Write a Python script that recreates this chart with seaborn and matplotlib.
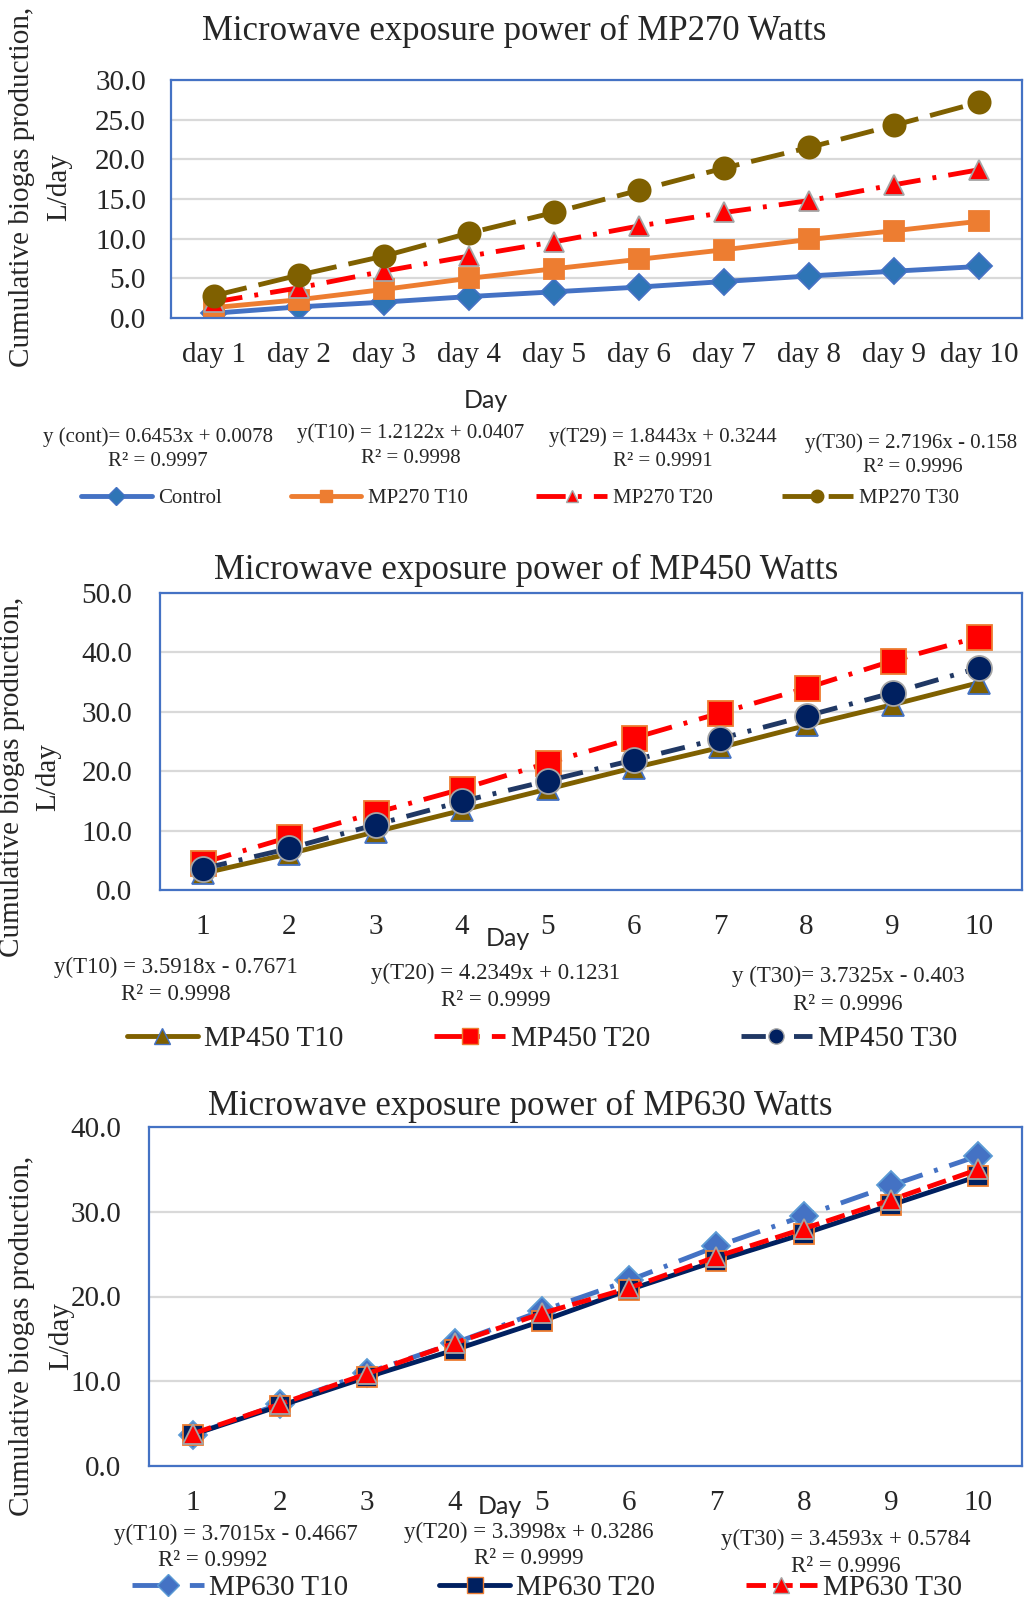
import numpy as np
import pandas as pd
import seaborn as sns
import matplotlib.pyplot as plt
from matplotlib.lines import Line2D
from matplotlib.ticker import FormatStrFormatter

sns.set_style("white")
plt.rcParams['font.family'] = ['Liberation Serif', 'DejaVu Serif']

# ---- data ----
days = list(range(1, 11))
day_labels_270 = ['day %d' % d for d in days]

mp270_control = [0.6, 1.4, 2.0, 2.7, 3.3, 3.9, 4.6, 5.3, 5.9, 6.5]
mp270_t10 = [1.3, 2.3, 3.6, 5.0, 6.2, 7.4, 8.6, 9.9, 11.0, 12.2]
mp270_t20 = [2.0, 3.8, 5.9, 7.8, 9.6, 11.6, 13.3, 14.8, 16.8, 18.7]
mp270_t30 = [2.8, 5.4, 7.8, 10.7, 13.3, 16.1, 18.9, 21.5, 24.3, 27.2]

mp450_t10 = [2.8, 6.1, 9.8, 13.4, 17.0, 20.6, 24.0, 27.7, 31.2, 34.9]
mp450_t20 = [4.6, 8.9, 13.0, 17.0, 21.4, 25.6, 29.8, 34.0, 38.6, 42.6]
mp450_t30 = [3.6, 7.0, 11.0, 14.9, 18.4, 21.9, 25.5, 29.3, 33.2, 37.4]

mp630_t10 = [3.7, 7.3, 11.0, 14.5, 18.3, 21.9, 25.9, 29.5, 33.1, 36.6]
mp630_t20 = [3.7, 7.1, 10.5, 13.7, 17.1, 20.8, 24.2, 27.4, 30.8, 34.2]
mp630_t30 = [3.8, 7.3, 10.9, 14.5, 18.0, 21.0, 24.7, 28.0, 31.4, 35.0]

W, H = 1026, 1602
fig = plt.figure(figsize=(W / 100, H / 100), dpi=100)


def box(l, t, r, b):
    return fig.add_axes([l / W, 1 - b / H, (r - l) / W, (b - t) / H])


def style_ax(ax, ymax, step, xlabels, tick_pad_y):
    ax.set_xlim(0.5, 10.5)
    ax.set_ylim(0, ymax)
    ax.set_yticks(np.arange(0, ymax + 0.1, step))
    ax.yaxis.set_major_formatter(FormatStrFormatter('%.1f'))
    ax.set_xticks(days)
    ax.set_xticklabels(xlabels)
    ax.tick_params(axis='both', length=0, labelsize=21)
    ax.tick_params(axis='y', pad=tick_pad_y)
    ax.tick_params(axis='x', pad=17)
    ax.grid(axis='y', color='#D9D9D9', lw=1.6)
    ax.grid(axis='x', visible=False)
    ax.set_axisbelow(True)
    for s in ax.spines.values():
        s.set_color('#4472C4')
        s.set_linewidth(1.6)
    ax.set_xlabel('')
    ax.set_ylabel('')


def draw(ax, y, st):
    sns.lineplot(x=days, y=y, ax=ax, color=st['c'], lw=st['lw'], linestyle=st['ls'],
                 marker=st['m'], markersize=st['ms'], markerfacecolor=st['mfc'],
                 markeredgecolor=st['mec'], markeredgewidth=1.3, legend=False)


def handle(st, ms):
    return Line2D([], [], color=st['c'], lw=st['lw'], linestyle=st['ls'], marker=st['m'],
                  markersize=ms, markerfacecolor=st['mfc'], markeredgecolor=st['mec'])


def ylab(x1, x2, yc):
    fig.text(x1 / W, 1 - yc / H, 'Cumulative biogas production,', rotation=90,
             ha='center', va='center', fontsize=21)
    fig.text(x2 / W, 1 - yc / H, 'L/day', rotation=90, ha='center', va='center', fontsize=21)


def eq(x, y, s, size):
    fig.text(x / W, 1 - y / H, s, ha='center', va='center', fontsize=size)


def day_label(x, y):
    fig.text(x / W, 1 - y / H, 'Day', ha='center', va='center', fontsize=18,
             family=['Lato', 'DejaVu Sans'])


dashdot = (0, (6, 2.5, 0.8, 2.5))
longdash = (0, (7, 2.5))

# ---- panel 1: MP270 ----
ax1 = box(171, 80, 1022, 318)
s_ctrl = dict(c='#4472C4', lw=3.5, ls='-', m='D', ms=13, mfc='#2E75B6', mec='#4472C4')
s_10 = dict(c='#ED7D31', lw=3.5, ls='-', m='s', ms=14, mfc='#ED7D31', mec='#ED7D31')
s_20 = dict(c='#FF0000', lw=3.5, ls=dashdot, m='^', ms=15, mfc='#FF0000', mec='#A5A5A5')
s_30 = dict(c='#7F6000', lw=3.5, ls=longdash, m='o', ms=16, mfc='#7F6000', mec='#7F6000')
for y, st in [(mp270_control, s_ctrl), (mp270_t10, s_10), (mp270_t20, s_20), (mp270_t30, s_30)]:
    draw(ax1, y, st)
style_ax(ax1, 30, 5, day_labels_270, 18)
fig.text(514 / W, 1 - 31 / H, 'Microwave exposure power of MP270 Watts', ha='center',
         va='center', fontsize=25)
ylab(22, 59, 187)
day_label(486, 400)
eq(158, 437, 'y (cont)= 0.6453x + 0.0078', 15)
eq(158, 462, 'R² = 0.9997', 15)
eq(411, 433, 'y(T10) = 1.2122x + 0.0407', 15)
eq(411, 459, 'R² = 0.9998', 15)
eq(663, 437, 'y(T29) = 1.8443x + 0.3244', 15)
eq(663, 462, 'R² = 0.9991', 15)
eq(911, 443, 'y(T30) = 2.7196x - 0.158', 15)
eq(913, 468, 'R² = 0.9996', 15)
fig.legend([handle(s, 9) for s in [s_ctrl, s_10, s_20, s_30]],
           ['Control', 'MP270 T10', 'MP270 T20', 'MP270 T30'],
           loc='center', bbox_to_anchor=(520 / W, 1 - 498 / H), ncol=4, frameon=False,
           fontsize=15, handlelength=3.4, handletextpad=0.3, columnspacing=3.3)

# ---- panel 2: MP450 ----
ax2 = box(160, 593, 1022, 890)
s2_10 = dict(c='#7F6000', lw=3.5, ls='-', m='^', ms=16, mfc='#7F6000', mec='#4472C4')
s2_20 = dict(c='#FF0000', lw=3.5, ls=dashdot, m='s', ms=18, mfc='#FF0000', mec='#ED7D31')
s2_30 = dict(c='#203864', lw=3.5, ls=(0, (5, 2.5, 0.8, 2.5)), m='o', ms=18,
             mfc='#002060', mec='#A5A5A5')
for y, st in [(mp450_t10, s2_10), (mp450_t20, s2_20), (mp450_t30, s2_30)]:
    draw(ax2, y, st)
style_ax(ax2, 50, 10, [str(d) for d in days], 20)
fig.text(526 / W, 1 - 570 / H, 'Microwave exposure power of MP450 Watts', ha='center',
         va='center', fontsize=25)
ylab(12, 48, 777)
day_label(508, 938)
eq(176, 967, 'y(T10) = 3.5918x - 0.7671', 16.5)
eq(176, 995, 'R² = 0.9998', 16.5)
eq(496, 973, 'y(T20) = 4.2349x + 0.1231', 16.5)
eq(496, 1000, 'R² = 0.9999', 16.5)
eq(848, 976, 'y (T30)= 3.7325x - 0.403', 16.5)
eq(848, 1005, 'R² = 0.9996', 16.5)
fig.legend([handle(s, 11) for s in [s2_10, s2_20, s2_30]],
           ['MP450 T10', 'MP450 T20', 'MP450 T30'],
           loc='center', bbox_to_anchor=(542 / W, 1 - 1039 / H), ncol=3, frameon=False,
           fontsize=21, handlelength=2.45, handletextpad=0.2, columnspacing=3.1)

# ---- panel 3: MP630 ----
ax3 = box(149, 1127, 1022, 1466)
s3_10 = dict(c='#4472C4', lw=3.5, ls=(0, (6, 2.5, 0.8, 2.5)), m='D', ms=14,
             mfc='#4472C4', mec='#5B9BD5')
s3_20 = dict(c='#002060', lw=3.5, ls='-', m='s', ms=15, mfc='#002060', mec='#ED7D31')
s3_30 = dict(c='#FF0000', lw=3.5, ls=(0, (4, 1.5)), m='^', ms=15, mfc='#FF0000',
             mec='#A5A5A5')
for y, st in [(mp630_t10, s3_10), (mp630_t20, s3_20), (mp630_t30, s3_30)]:
    draw(ax3, y, st)
style_ax(ax3, 40, 10, [str(d) for d in days], 20)
fig.text(520 / W, 1 - 1106 / H, 'Microwave exposure power of MP630 Watts', ha='center',
         va='center', fontsize=25)
ylab(22, 61, 1336)
day_label(500, 1506)
eq(236, 1534, 'y(T10) = 3.7015x - 0.4667', 16.5)
eq(213, 1561, 'R² = 0.9992', 16.5)
eq(529, 1532, 'y(T20) = 3.3998x + 0.3286', 16.5)
eq(529, 1559, 'R² = 0.9999', 16.5)
eq(846, 1539, 'y(T30) = 3.4593x + 0.5784', 16.5)
eq(846, 1566, 'R² = 0.9996', 16.5)
fig.legend([handle(s, 11) for s in [s3_10, s3_20, s3_30]],
           ['MP630 T10', 'MP630 T20', 'MP630 T30'],
           loc='center', bbox_to_anchor=(547 / W, 1 - 1588 / H), ncol=3, frameon=False,
           fontsize=21, handlelength=2.45, handletextpad=0.2, columnspacing=3.1)

fig.savefig('out.png', dpi=100)
